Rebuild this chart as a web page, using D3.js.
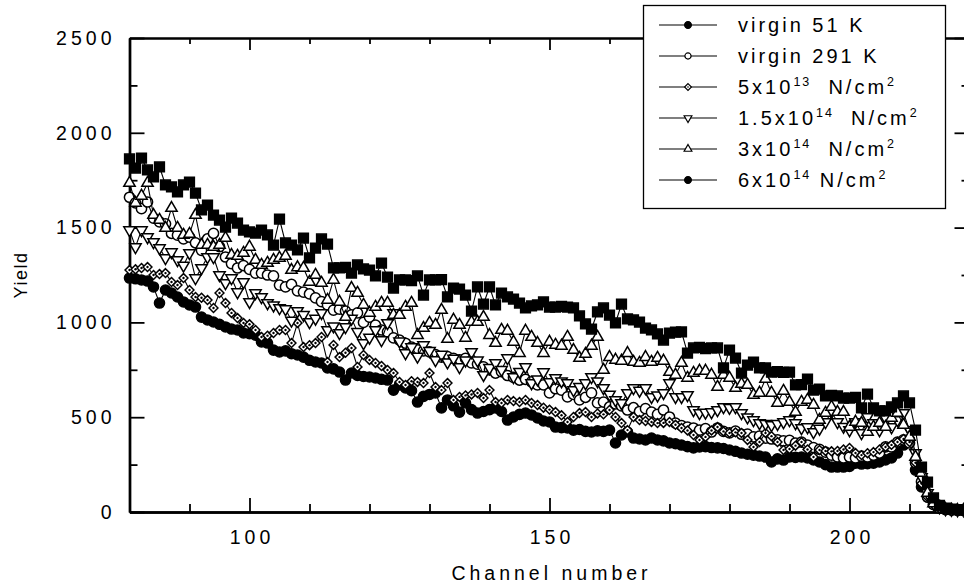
<!DOCTYPE html>
<html><head><meta charset="utf-8">
<script src="https://cdn.jsdelivr.net/npm/d3@7"></script>
<style>
html,body{margin:0;padding:0;background:#fff;}
svg{display:block;}
text{font-family:"Liberation Sans",Arial,Helvetica,sans-serif;fill:#000;}
</style>
</head><body>
<svg id="chart" width="964" height="587"></svg>
<script>
// ---------------- DATA ----------------
const channelFirst = 80, channelLast = 220;
const xTickValues = [100, 150, 200];
const xMinorTicks = [80, 90, 110, 120, 130, 140, 160, 170, 180, 190, 210, 220];
const yTickValues = [0, 500, 1000, 1500, 2000, 2500];
const yMinorTicks = [250, 750, 1250, 1750, 2250];
const xTitle = "Channel number";
const yTitle = "Yield";

// virgin 51 K (filled circles), channels 80..220
const virgin51K = [
 1234,1230,1224,1218,1187,1102,1171,1155,1134,1108,
 1092,1081,1028,1013,1002,990,976,965,960,944,
 940,933,897,891,854,844,850,835,828,817,
 800,791,786,760,755,738,696,733,720,715,
 712,707,700,696,643,670,654,640,580,610,
 620,628,549,591,560,527,575,540,522,530,
 540,549,530,485,501,515,522,512,496,480,
 475,448,445,443,432,435,425,422,428,425,
 432,364,406,422,390,385,380,390,380,375,
 364,360,353,345,338,343,345,340,338,335,
 327,320,311,305,300,295,290,264,280,274,
 290,288,290,285,275,264,250,237,237,237,
 240,258,253,255,258,264,275,285,311,353,
 380,221,132,79,40,20,12,10,8,8,8];

// virgin 291 K (open circles)
const virgin291K = [
 1660,1630,1600,1635,1550,1530,1520,1470,1460,1440,
 1450,1420,1380,1440,1470,1400,1345,1310,1287,1300,
 1280,1260,1260,1250,1245,1197,1187,1200,1166,1160,
 1150,1129,1110,1092,1065,1070,1060,1040,1050,1000,
 1028,986,960,950,918,907,890,870,855,850,
 844,830,817,820,810,802,810,786,780,765,
 750,733,740,720,710,696,700,686,670,670,
 628,650,643,607,620,591,605,628,575,580,
 554,570,560,538,550,530,545,527,515,538,
 501,469,455,448,443,432,440,422,443,425,
 417,427,410,411,396,400,390,385,380,375,
 378,364,369,353,340,330,316,300,290,285,
 290,285,295,290,300,311,343,343,369,380,
 364,260,160,79,40,20,15,12,10,10,10];

// 5x10^13 N/cm^2 (diamonds)
const dose5e13 = [
 1276,1280,1287,1292,1250,1255,1260,1213,1197,1234,
 1171,1134,1130,1118,1076,1155,1102,1050,1023,997,
 990,960,923,930,944,960,960,891,997,870,
 880,891,923,791,881,817,840,865,765,828,
 802,786,770,749,733,686,670,690,686,680,
 733,659,643,680,591,607,615,620,628,601,
 643,580,575,591,585,580,591,575,564,550,
 540,527,510,475,501,522,527,501,520,515,
 538,501,469,432,501,485,480,475,469,470,
 475,460,443,430,406,380,396,430,448,425,
 417,420,417,380,343,369,417,400,369,327,
 332,350,369,330,290,327,322,320,322,330,
 338,311,300,310,316,330,343,354,369,385,
 369,260,150,79,40,20,15,12,10,10,8];

// 1.5x10^14 N/cm^2 (down triangles)
const dose15e14 = [
 1487,1398,1487,1450,1424,1392,1340,1371,1329,1300,
 1366,1234,1287,1345,1345,1250,1208,1234,1160,1213,
 1108,1155,1134,1102,1090,1076,1070,1010,1060,1040,
 1002,1020,1050,960,980,944,976,1020,950,891,
 920,960,907,997,1050,900,838,870,820,880,
 850,802,830,790,810,765,800,844,800,723,
 760,786,750,812,712,740,765,680,700,738,
 686,707,690,680,643,660,680,712,690,654,
 620,591,575,628,654,640,654,607,615,628,
 680,607,607,617,538,522,525,527,538,554,
 550,554,522,500,485,469,465,459,465,475,
 485,469,443,448,422,440,475,527,475,450,
 432,475,417,501,469,432,496,448,485,522,
 432,311,185,100,45,25,15,12,10,10,8];

// 3x10^14 N/cm^2 (up triangles)
const dose3e14 = [
 1735,1630,1667,1735,1566,1540,1498,1603,1498,1461,
 1466,1566,1408,1408,1398,1408,1445,1355,1350,1366,
 1398,1329,1303,1313,1329,1340,1350,1276,1290,1287,
 1213,1250,1208,1118,1224,1108,1028,1181,1155,1092,
 1050,1081,1102,1102,1039,1039,1081,1102,933,970,
 997,986,1065,912,1013,986,918,1002,1002,1028,
 933,891,960,955,897,838,955,923,891,838,
 897,881,876,923,854,812,833,876,923,749,
 817,802,797,838,791,786,817,791,812,797,
 738,723,786,707,733,744,744,723,659,723,
 707,654,675,670,617,628,701,628,575,638,
 580,527,580,591,564,485,522,554,527,527,
 448,475,469,422,448,469,448,496,522,459,
 396,290,206,100,45,25,15,12,10,10,8];

// 6x10^14 N/cm^2 (filled squares)
const dose6e14 = [
 1862,1814,1867,1804,1767,1820,1725,1715,1688,1725,
 1740,1682,1593,1619,1566,1540,1503,1550,1524,1487,
 1477,1471,1487,1461,1408,1545,1419,1408,1382,1445,
 1340,1392,1440,1413,1287,1287,1290,1260,1303,1282,
 1276,1245,1313,1239,1181,1224,1224,1220,1245,1144,
 1224,1224,1226,1134,1181,1176,1144,1060,1187,1097,
 1187,1092,1155,1134,1123,1102,1076,1087,1092,1108,
 1081,1081,1084,1081,1076,1034,992,965,1055,1076,
 1039,997,1097,1018,1013,1002,970,960,939,907,
 944,949,950,838,865,868,862,865,865,760,
 854,812,733,775,791,760,760,738,740,736,
 738,670,672,701,643,648,612,615,612,601,
 601,605,549,622,549,533,533,554,575,612,
 575,432,237,158,74,35,20,15,12,10,10];

const seriesValues = [virgin51K, virgin291K, dose5e13, dose15e14, dose3e14, dose6e14];
// legend label parts: [base, superscript, middle, superscript]
const legendLabels = [
  ["virgin 51 K"],
  ["virgin 291 K"],
  ["5x10", "13", "  N/cm", "2"],
  ["1.5x10", "14", "  N/cm", "2"],
  ["3x10", "14", "  N/cm", "2"],
  ["6x10", "14", " N/cm", "2"]
];

// ---------------- STYLES ----------------
const markerStyles = [
  {type: d3.symbolCircle, size: 80, fill: "#000", rot: 0, lsize: 36, lfill: "#000"},
  {type: d3.symbolCircle, size: 82, fill: "#fff", rot: 0, lsize: 30, lfill: "#fff"},
  {type: d3.symbolDiamond2, size: 50, fill: "#fff", rot: 0, dot: true, lsize: 30, lfill: "#fff"},
  {type: d3.symbolTriangle, size: 56, fill: "#fff", rot: 180, lsize: 26, lfill: "#fff"},
  {type: d3.symbolTriangle, size: 56, fill: "#fff", rot: 0, lsize: 26, lfill: "#fff"},
  {type: d3.symbolSquare, size: 95, fill: "#000", rot: 0, lsize: 36, lfill: "#000", legendType: d3.symbolCircle}
];

const svg = d3.select("#chart");
const x = d3.scaleLinear().domain([channelFirst, channelLast]).range([129.5, 969.5]);
const y = d3.scaleLinear().domain([0, 2500]).range([512, 38]);
const channels = d3.range(channelFirst, channelLast + 1);

const FS = 19.5;
const LS = 4;

// ---------------- AXES ----------------
function styleAxis(g, width) {
  g.selectAll(".domain").attr("stroke", "#000").attr("stroke-width", width);
  g.selectAll(".tick line").attr("stroke", "#000").attr("stroke-width", 1.8);
}
// bottom
const gB = svg.append("g").attr("transform", `translate(0,${y(0)})`);
gB.append("g").call(d3.axisBottom(x).tickValues(xMinorTicks).tickSizeInner(-8).tickSizeOuter(0).tickFormat(""))
  .call(g => styleAxis(g, 2.4));
gB.append("g").call(d3.axisBottom(x).tickValues(xTickValues).tickSizeInner(-14).tickSizeOuter(0).tickPadding(18).tickFormat(d3.format("d")))
  .call(g => { styleAxis(g, 2.4); g.selectAll("text").attr("font-size", FS).attr("letter-spacing", LS).attr("dx", LS/2).attr("font-family", null); });
// top
const gT = svg.append("g").attr("transform", `translate(0,${y(2500)})`);
gT.append("g").call(d3.axisTop(x).tickValues(xMinorTicks).tickSizeInner(-6).tickSizeOuter(0).tickFormat("")).call(g => styleAxis(g, 2));
gT.append("g").call(d3.axisTop(x).tickValues(xTickValues).tickSizeInner(-12).tickSizeOuter(0).tickFormat("")).call(g => styleAxis(g, 2));
// left
const gL = svg.append("g").attr("transform", `translate(${x(channelFirst)},0)`);
gL.append("g").call(d3.axisLeft(y).tickValues(yMinorTicks).tickSizeInner(-8).tickSizeOuter(0).tickFormat("")).call(g => styleAxis(g, 2.4));
gL.append("g").call(d3.axisLeft(y).tickValues(yTickValues).tickSizeInner(-15).tickSizeOuter(0).tickPadding(18 - LS).tickFormat(d3.format("d")))
  .call(g => { styleAxis(g, 2.4); g.selectAll("text").attr("font-size", FS).attr("letter-spacing", LS).attr("font-family", null); });
// right
const gR = svg.append("g").attr("transform", `translate(${x(channelLast)},0)`);
gR.append("g").call(d3.axisRight(y).tickValues(yMinorTicks).tickSizeInner(-8).tickSizeOuter(0).tickFormat("")).call(g => styleAxis(g, 2));
gR.append("g").call(d3.axisRight(y).tickValues(yTickValues).tickSizeInner(-15).tickSizeOuter(0).tickFormat("")).call(g => styleAxis(g, 2));

// titles
svg.append("text").attr("x", (x(channelFirst) + x(channelLast)) / 2 + LS/2).attr("y", 580)
  .attr("text-anchor", "middle").attr("font-size", FS).attr("letter-spacing", LS).text(xTitle);
svg.append("text").attr("transform", `translate(27,${(y(0) + y(2500)) / 2}) rotate(-90)`)
  .attr("text-anchor", "middle").attr("font-size", 18).attr("letter-spacing", 1.5).text(yTitle);

// ---------------- DATA MARKS ----------------
const line = d3.line().x((d, i) => x(channels[i])).y(d => y(d));
seriesValues.forEach((vals, si) => {
  const st = markerStyles[si];
  const g = svg.append("g");
  g.append("path").attr("d", line(vals)).attr("fill", "none").attr("stroke", "#000").attr("stroke-width", 1.1);
  const sym = d3.symbol().type(st.type).size(st.size);
  g.selectAll("path.m").data(vals).join("path").attr("class", "m")
    .attr("d", sym)
    .attr("transform", (d, i) => `translate(${x(channels[i])},${y(d)}) rotate(${st.rot})`)
    .attr("fill", st.fill).attr("stroke", "#000").attr("stroke-width", 1.5);
  if (st.dot) {
    g.selectAll("circle.dot").data(vals).join("circle").attr("class", "dot")
      .attr("cx", (d, i) => x(channels[i])).attr("cy", d => y(d)).attr("r", 1.2).attr("fill", "#000");
  }
});

// ---------------- LEGEND ----------------
const legend = svg.append("g");
legend.append("rect").attr("x", 643.5).attr("y", 5.5).attr("width", 302).attr("height", 203)
  .attr("fill", "#fff").attr("stroke", "#000").attr("stroke-width", 1.3);
const rowY = i => 25 + i * 31;
legendLabels.forEach((parts, i) => {
  const st = markerStyles[i];
  const ry = rowY(i);
  legend.append("line").attr("x1", 659).attr("x2", 717).attr("y1", ry).attr("y2", ry).attr("stroke", "#000").attr("stroke-width", 1.1);
  legend.append("path").attr("d", d3.symbol().type(st.legendType || st.type).size(st.lsize))
    .attr("transform", `translate(688,${ry}) rotate(${st.rot})`)
    .attr("fill", st.lfill).attr("stroke", "#000").attr("stroke-width", 1.2);
  if (st.dot) legend.append("circle").attr("cx", 688).attr("cy", ry).attr("r", 0.8).attr("fill", "#000");
  const t = legend.append("text").attr("x", 738).attr("y", ry + 7).attr("font-size", 20)
    .attr("letter-spacing", 3).style("white-space", "pre");
  t.append("tspan").text(parts[0]);
  if (parts.length > 1) {
    t.append("tspan").attr("dy", -8).attr("font-size", 12.5).attr("letter-spacing", 2).text(parts[1]);
    t.append("tspan").attr("dy", 8).text(parts[2]);
    t.append("tspan").attr("dy", -8).attr("font-size", 12.5).text(parts[3]);
  }
});
</script>
</body></html>
